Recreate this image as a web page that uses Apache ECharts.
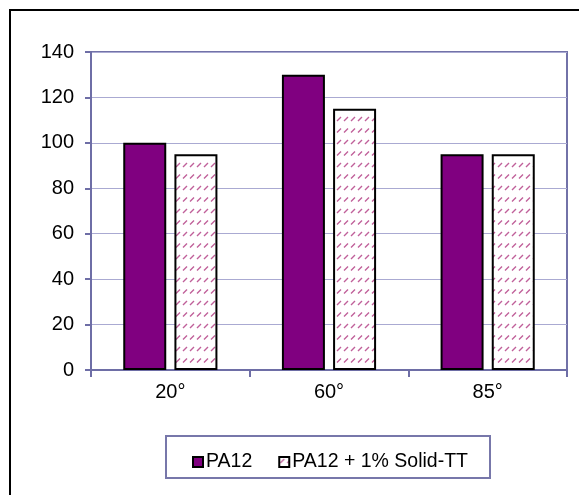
<!DOCTYPE html>
<html>
<head>
<meta charset="utf-8">
<script src="https://cdn.jsdelivr.net/npm/echarts@6/dist/echarts.min.js"></script>
<style>
html,body{margin:0;padding:0;background:#fff;}
#c{width:579px;height:495px;}
</style>
</head>
<body>
<div id="c"></div>
<script>
var categories = ['20°', '60°', '85°'];
var seriesNames = ['PA12', 'PA12 + 1% Solid-TT'];
var pa12 = [100, 130, 95];
var pa12Solid = [95, 115, 95];
var yTicks = { min: 0, max: 140, interval: 20 };

function makeHatch() {
  var c = document.createElement('canvas');
  c.width = 7; c.height = 23;
  var ctx = c.getContext('2d');
  ctx.fillStyle = '#ffffff';
  ctx.fillRect(0, 0, 7, 23);
  ctx.strokeStyle = '#c0609a';
  ctx.lineWidth = 1.4;
  ctx.beginPath();
  ctx.moveTo(1, 6); ctx.lineTo(5, 2);
  ctx.moveTo(1, 17.5); ctx.lineTo(5, 13.5);
  ctx.stroke();
  return c;
}
var hatch = { image: makeHatch(), repeat: 'repeat' };

var chart = echarts.init(document.getElementById('c'));
var font = 'Liberation Sans, Arial, sans-serif';
var fs = 19.5;
var fsAxis = 20;
chart.setOption({
  animation: false,
  backgroundColor: '#ffffff',
  textStyle: { fontFamily: font },
  grid: {
    left: 91, right: 12, top: 52, bottom: 125,
    show: true, borderColor: '#7272a8', borderWidth: 2, backgroundColor: 'transparent'
  },
  graphic: [
    { type: 'rect', shape: { x: 10, y: 10, width: 620, height: 600 }, style: { fill: 'none', stroke: '#000', lineWidth: 2 }, silent: true },
    { type: 'rect', shape: { x: 166, y: 436, width: 324, height: 42 }, style: { fill: 'none', stroke: '#7777aa', lineWidth: 2 }, silent: true, z: -1 }
  ],
  legend: {
    left: 187, top: 447,
    itemWidth: 10, itemHeight: 10, itemGap: 26,
    textStyle: { fontSize: fs, color: '#000', fontFamily: font, padding: [0, 0, 0, -2] },
    data: seriesNames.map(function (n) { return { name: n, icon: 'rect' }; })
  },
  xAxis: {
    type: 'category',
    data: categories,
    axisLine: { lineStyle: { color: '#6e6ea6', width: 2 } },
    axisTick: { show: true, alignWithLabel: false, length: 7, lineStyle: { color: '#6e6ea6', width: 2 } },
    axisLabel: { fontSize: fsAxis, color: '#000', margin: 12, fontFamily: font },
    splitLine: { show: false }
  },
  yAxis: {
    type: 'value',
    min: yTicks.min, max: yTicks.max, interval: yTicks.interval,
    axisLine: { show: true, lineStyle: { color: '#6e6ea6', width: 2 } },
    axisTick: { show: true, length: 6, lineStyle: { color: '#6e6ea6', width: 2 } },
    axisLabel: { fontSize: fsAxis, color: '#000', margin: 17, fontFamily: font },
    splitLine: { show: true, lineStyle: { color: '#aaaad2', width: 1 } }
  },
  series: [
    {
      name: seriesNames[0], type: 'bar', data: pa12,
      barWidth: 43, barGap: '19%',
      itemStyle: { color: '#800080', borderColor: '#000', borderWidth: 2 }
    },
    {
      name: seriesNames[1], type: 'bar', data: pa12Solid,
      barWidth: 43, barGap: '19%',
      itemStyle: { color: hatch, borderColor: '#000', borderWidth: 2 }
    }
  ]
});
</script>
</body>
</html>
